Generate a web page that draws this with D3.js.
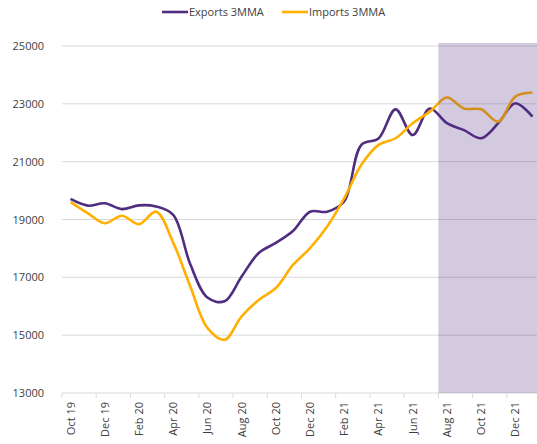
<!DOCTYPE html>
<html>
<head>
<meta charset="utf-8">
<script src="https://cdn.jsdelivr.net/npm/d3@7"></script>
<style>
  body { margin: 0; background: #fff; }
  text { font-family: "Open Sans", "Noto Sans", sans-serif; fill: #404040; }
</style>
</head>
<body>
<svg id="chart" width="537" height="444"></svg>
<script>
var months = ["Oct 19","Nov 19","Dec 19","Jan 20","Feb 20","Mar 20","Apr 20","May 20","Jun 20","Jul 20",
  "Aug 20","Sep 20","Oct 20","Nov 20","Dec 20","Jan 21","Feb 21","Mar 21","Apr 21","May 21",
  "Jun 21","Jul 21","Aug 21","Sep 21","Oct 21","Nov 21","Dec 21","Jan 22"];
var exports3mma = [19710, 19480, 19560, 19360, 19490, 19450, 19160, 17450, 16300, 16170,
  17030, 17840, 18190, 18600, 19270, 19270, 19630, 21580, 21800, 22810,
  21920, 22840, 22330, 22090, 21810, 22330, 23020, 22560];
var imports3mma = [19600, 19220, 18870, 19130, 18840, 19270, 18200, 16680, 15250, 14840,
  15650, 16220, 16630, 17430, 18010, 18760, 19740, 20890, 21580, 21810,
  22330, 22730, 23220, 22840, 22810, 22380, 23250, 23390];
var yTicks = [13000, 15000, 17000, 19000, 21000, 23000, 25000];
var shadeFrom = "Aug 21";

(function () {
  var svg = d3.select("#chart"),
    margin = {top: 46, right: -4, bottom: 51, left: 62},
    width = +svg.attr("width") - margin.left - margin.right,
    height = +svg.attr("height") - margin.top - margin.bottom,
    g = svg.append("g").attr("transform", "translate(" + margin.left + "," + margin.top + ")");

  var x = d3.scaleBand().domain(months).range([0, width]);
  var y = d3.scaleLinear().domain([13000, 25000]).range([height, 0]);

  // grid
  g.append("g").selectAll("line")
    .data(yTicks.slice(1))
    .enter().append("line")
      .attr("x1", 0).attr("x2", width)
      .attr("y1", function (d) { return y(d); })
      .attr("y2", function (d) { return y(d); })
      .attr("stroke", "#d9d9d9");

  var yAxis = g.append("g")
    .call(d3.axisLeft(y).tickValues(yTicks).tickSize(0).tickPadding(18).tickFormat(d3.format("d")));
  yAxis.select(".domain").remove();
  yAxis.selectAll("text").style("font-size", "11px").attr("fill", "#404040");

  // x axis
  var xa = g.append("g").attr("transform", "translate(0," + height + ")");
  xa.append("line").attr("x1", 0).attr("x2", width).attr("stroke", "#d9d9d9");
  xa.selectAll(".tk")
    .data(months.filter(function (d, i) { return i % 2 === 0; }))
    .enter().append("line")
      .attr("class", "tk")
      .attr("x1", function (d) { return x(d); })
      .attr("x2", function (d) { return x(d); })
      .attr("y1", 0).attr("y2", 5)
      .attr("stroke", "#d9d9d9");
  xa.selectAll(".lbl")
    .data(months.filter(function (d, i) { return i % 2 === 0; }))
    .enter().append("text")
      .attr("class", "lbl")
      .attr("transform", function (d) {
        return "translate(" + (x(d) + x.bandwidth() / 2 + 4) + ",9) rotate(-90)";
      })
      .attr("text-anchor", "end")
      .style("font-size", "11px")
      .text(function (d) { return d; });

  var line = d3.line()
    .x(function (d, i) { return x(months[i]) + x.bandwidth() / 2; })
    .y(function (d) { return y(d); })
    .curve(d3.curveCatmullRom.alpha(0.5));

  g.append("path").datum(exports3mma)
    .attr("fill", "none").attr("stroke", "#4f2d7f").attr("stroke-width", 2.6)
    .attr("d", line);
  g.append("path").datum(imports3mma)
    .attr("fill", "none").attr("stroke", "#ffb000").attr("stroke-width", 2.6)
    .attr("d", line);

  // forecast shading on top
  g.append("rect")
    .attr("x", x(shadeFrom))
    .attr("y", -3)
    .attr("width", width - x(shadeFrom))
    .attr("height", height + 3)
    .attr("fill", "#4f2d7f")
    .attr("fill-opacity", 0.25);

  // legend
  var legend = svg.append("g").attr("transform", "translate(0,12)");
  var items = [{name: "Exports 3MMA", color: "#4f2d7f", x: 162}, {name: "Imports 3MMA", color: "#ffb000", x: 282}];
  items.forEach(function (it) {
    legend.append("line").attr("x1", it.x).attr("x2", it.x + 26)
      .attr("stroke", it.color).attr("stroke-width", 2.6);
    legend.append("text").attr("x", it.x + 27).attr("y", 4)
      .style("font-size", "11px").text(it.name);
  });
})();
</script>
</body>
</html>
